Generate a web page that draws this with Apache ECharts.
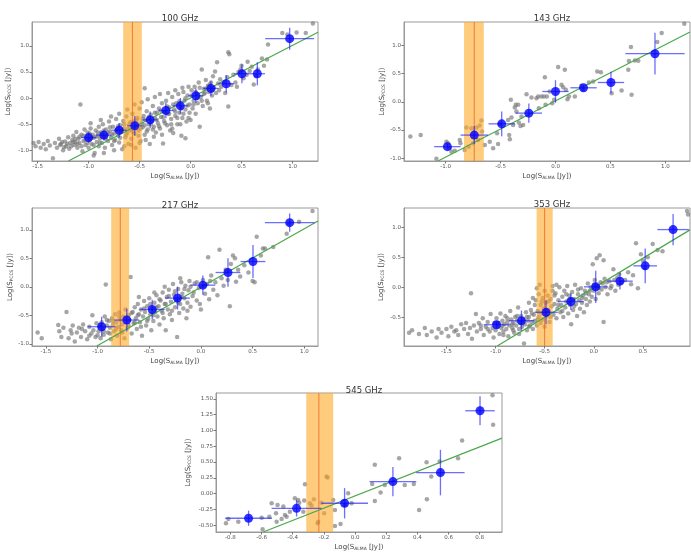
<!DOCTYPE html>
<html><head><meta charset="utf-8">
<script src="https://cdn.jsdelivr.net/npm/echarts@6/dist/echarts.min.js"></script>
<style>html,body{margin:0;padding:0;background:#fff}#c{width:691px;height:557px}</style>
</head><body><div id="c"></div>
<script>
// ---------- DATA ----------
const titles = ['100 GHz', '143 GHz', '217 GHz', '353 GHz', '545 GHz'];

// axis ranges [min,max] and tick steps
const xRanges = [[-1.555, 1.25], [-1.38, 1.225], [-1.634, 1.133], [-1.932, 0.98], [-0.892, 0.943]];
const yRanges = [[-1.205, 1.46], [-1.05, 1.418], [-1.038, 1.382], [-0.982, 1.32], [-0.608, 1.593]];
const xSteps = [0.5, 0.5, 0.5, 0.5, 0.2];
const ySteps = [0.5, 0.5, 0.5, 0.5, 0.25];
const yDecimals = [1, 1, 1, 1, 2];

// orange band [lo, centre, hi]
const band100 = [-0.661, -0.57, -0.478];
const band143 = [-0.833, -0.74, -0.653];
const band217 = [-0.868, -0.78, -0.694];
const band353 = [-0.582, -0.5, -0.418];
const band545 = [-0.313, -0.232, -0.14];

// green relation line endpoints
const line100 = [[-1.198, -1.205], [1.25, 1.263]];
const line143 = [[-1.07, -1.05], [1.225, 1.24]];
const line217 = [[-1.007, -1.038], [1.133, 1.155]];
const line353 = [[-0.983, -0.982], [0.98, 0.955]];
const line545 = [[-0.589, -0.608], [0.943, 0.878]];

// binned points [x, y, xerr, yerr]
const bins100 = [[-1.0,-0.756,0.075,0.1],[-0.85,-0.71,0.075,0.1],[-0.70,-0.615,0.075,0.14],[-0.547,-0.53,0.075,0.19],[-0.396,-0.417,0.075,0.16],[-0.242,-0.237,0.075,0.15],[-0.10,-0.147,0.075,0.15],[0.052,0.045,0.075,0.14],[0.20,0.186,0.075,0.14],[0.35,0.276,0.075,0.17],[0.504,0.468,0.075,0.18],[0.655,0.468,0.075,0.22],[0.972,1.14,0.24,0.21]];
const bins143 = [[-0.985,-0.795,0.12,0.05],[-0.74,-0.59,0.125,0.16],[-0.49,-0.39,0.12,0.22],[-0.243,-0.20,0.12,0.17],[0.0,0.184,0.12,0.2],[0.255,0.25,0.12,0.04],[0.505,0.344,0.12,0.19],[0.906,0.855,0.27,0.37]];
const bins217 = [[-0.96,-0.70,0.135,0.175],[-0.717,-0.583,0.12,0.2],[-0.471,-0.397,0.12,0.17],[-0.226,-0.198,0.12,0.2],[0.019,0.029,0.12,0.17],[0.262,0.251,0.12,0.25],[0.504,0.443,0.12,0.29],[0.859,1.125,0.24,0.16]];
const bins353 = [[-0.99,-0.627,0.13,0.05],[-0.736,-0.56,0.13,0.17],[-0.486,-0.42,0.12,0.2],[-0.233,-0.24,0.13,0.14],[0.02,0.005,0.12,0.27],[0.267,0.10,0.13,0.14],[0.524,0.355,0.12,0.29],[0.808,0.96,0.16,0.26]];
const bins545 = [[-0.683,-0.39,0.15,0.12],[-0.375,-0.233,0.16,0.13],[-0.067,-0.153,0.15,0.24],[0.243,0.19,0.15,0.23],[0.548,0.333,0.155,0.36],[0.802,1.312,0.095,0.23]];

// individual sources [x, y]
const gray100 = [[-1.54,-0.86],[-1.52,-0.92],[-1.49,-0.84],[-1.47,-0.95],[-1.44,-0.88],[-1.42,-0.98],[-1.40,-0.82],[-1.38,-0.91],[-1.35,-1.15],[-1.33,-0.86],[-1.31,-0.95],[-1.29,-0.78],[-1.27,-0.88],[-1.25,-1.0],[-1.23,-0.83],[-1.22,-0.92],[-1.2,-0.75],[-1.19,-0.97],[-1.18,-0.86],[-1.16,-0.80],
[-1.15,-0.72],[-1.14,-0.9],[-1.13,-0.84],[-1.12,-0.65],[-1.11,-0.95],[-1.10,-0.78],[-1.09,-0.86],[-1.08,-0.12],[-1.07,-0.70],[-1.06,-1.02],[-1.05,-0.82],[-1.04,-0.6],[-1.03,-0.9],[-1.02,-0.74],[-1.01,-0.66],[-1.0,-0.95],[-0.99,-0.80],[-0.98,-0.58],[-0.97,-0.88],[-0.96,-0.70],[-0.95,-0.76],[-0.94,-1.05],[-0.93,-0.62],[-0.92,-0.84],[-0.91,-0.72],[-0.90,-0.55],[-0.90,-0.92],
[-0.89,-0.78],[-0.88,-0.66],[-0.87,-0.86],[-0.86,-0.5],[-0.85,-0.74],[-0.84,-0.95],[-0.83,-0.6],[-0.82,-0.70],[-0.81,-0.82],[-0.80,-0.45],[-0.79,-0.64],[-0.78,-0.76],[-0.77,-0.9],[-0.76,-0.55],[-0.75,-0.68],[-0.74,-0.8],[-0.73,-0.4],[-0.72,-0.6],[-0.71,-0.72],[-0.70,-0.85],[-0.69,-0.52],[-0.68,-0.64],[-0.67,-0.98],[-0.66,-0.44],[-0.65,-0.58],[-0.64,-0.75],[-0.63,-0.35],[-0.62,-0.66],[-0.61,-0.88],[-0.60,-0.5],
[-0.59,-0.6],[-0.58,-0.78],[-0.57,-0.3],[-0.56,-0.45],[-0.55,-0.68],[-0.54,-0.95],[-0.53,-0.52],[-0.52,-0.38],[-0.51,-0.62],[-0.50,-0.2],[-0.49,-0.82],[-0.48,-0.48],[-0.47,-0.56],[-0.46,-0.34],[-0.45,0.19],[-0.45,-0.7],[-0.44,-0.42],[-0.43,-0.25],[-0.42,-0.6],[-0.41,-0.5],[-0.40,-0.88],[-0.39,-0.32],[-0.38,-0.44],[-0.37,-0.15],[-0.36,-0.55],[-0.35,-0.38],[-0.34,-0.66],[-0.33,-0.28],[-0.32,-0.48],[-0.31,-0.2],[-0.30,-0.58],
[-0.29,-0.36],[-0.28,-0.1],[-0.27,-0.87],[-0.26,-0.44],[-0.25,-0.26],[-0.24,-0.05],[-0.23,-0.52],[-0.22,-0.3],[-0.21,-0.18],[-0.20,-0.62],[-0.19,-0.4],[-0.18,0.02],[-0.17,-0.67],[-0.16,-0.22],[-0.15,-0.34],[-0.14,-0.1],[-0.13,-0.5],[-0.12,0.08],[-0.11,-0.28],[-0.10,-0.15],[-0.09,-0.72],[-0.08,-0.38],[-0.07,0.12],[-0.06,-0.05],[-0.05,-0.77],[-0.05,-0.22],[-0.04,-0.45],[-0.03,0.05],[-0.02,-0.38],[-0.01,-0.12],
[0.01,0.15],[0.02,-0.2],[0.03,-0.05],[0.04,0.22],[0.05,-0.3],[0.06,0.08],[0.07,-0.1],[0.08,0.3],[0.09,-0.55],[0.10,0.02],[0.11,0.55],[0.12,-0.15],[0.13,0.18],[0.14,0.1],[0.15,0.35],[0.16,-0.05],[0.17,0.24],[0.18,0.12],[0.19,-0.2],[0.20,0.3],[0.21,0.05],[0.22,0.42],[0.23,0.2],[0.24,0.51],[0.25,0.1],[0.26,0.69],[0.27,0.28],[0.28,0.15],[0.29,0.36],[0.30,0.22],
[0.32,0.3],[0.34,0.1],[0.36,0.4],[0.37,0.88],[0.38,0.84],[0.37,-0.16],[0.4,0.25],[0.42,0.45],[0.44,0.3],[0.455,0.22],[0.47,0.5],[0.49,0.55],[0.50,0.62],[0.52,0.38],[0.55,0.45],[0.56,0.7],[0.58,0.52],[0.6,0.6],[0.62,0.26],[0.64,0.42],[0.66,0.55],[0.7,0.76],[0.72,0.62],[0.75,0.74],[0.76,1.03],
[0.9,1.25],[0.95,1.22],[1.04,1.26],[1.13,1.25],[1.2,1.43],
[-1.28,-0.9],[-1.26,-0.84],[-1.24,-0.94],[-1.21,-0.88],[-1.17,-0.92],[-1.15,-0.84],[-1.13,-0.78],[-1.11,-0.88],[-1.09,-0.74],[-1.07,-0.92],[-1.05,-0.72],[-1.03,-0.8],[-1.01,-0.86],[-0.99,-0.68],[-0.97,-0.76],[-0.95,-0.9],[-0.93,-0.74],[-0.91,-0.66],[-0.89,-0.86],[-0.87,-0.7],[-0.85,-0.62],[-0.83,-0.78],[-0.81,-0.66],[-0.79,-0.56],[-0.77,-0.7],[-0.75,-0.82],[-0.73,-0.62],[-0.71,-0.54],[-0.69,-0.76],[-0.67,-0.6],[-0.65,-0.5],[-0.63,-0.7],[-0.61,-0.58],[-0.59,-0.46],[-0.57,-0.64],[-0.55,-0.54],[-0.53,-0.42],[-0.51,-0.72],[-0.49,-0.58],[-0.47,-0.4],[-0.45,-0.52],[-0.43,-0.64],[-0.41,-0.36],[-0.39,-0.5],[-0.37,-0.6],[-0.35,-0.28],[-0.33,-0.42],[-0.31,-0.54],[-0.29,-0.24],[-0.27,-0.36],[-0.25,-0.48],[-0.23,-0.16],[-0.21,-0.3],[-0.19,-0.5],[-0.17,-0.12],[-0.15,-0.26],[-0.13,-0.38],[-0.11,-0.06],[-0.09,-0.2],[-0.07,-0.3],[-0.05,0.0],[-0.03,-0.14],[-0.01,-0.28],[0.01,0.05],[0.03,-0.12],[0.05,0.12],[0.07,0.0],[0.09,0.2],[0.11,-0.05],[0.13,0.08],[0.15,0.18],[0.17,-0.1],[0.19,0.26],[0.21,0.15],
[-0.98,-0.48],[-0.88,-0.42],[-0.78,-0.35],[-0.7,-0.3],[-0.62,-0.22],[-0.55,-0.12],[-0.48,-0.08],[-0.42,-0.02],[-0.35,0.02],[-0.3,0.08],[-0.22,0.1],[-0.15,0.15],[-0.08,0.2],[-0.02,0.22],
[-0.95,-1.1],[-0.85,-1.05],[-0.75,-1.0],[-0.65,-0.92],[-0.58,-0.9],[-0.5,-0.86],[-0.44,-0.8],[-0.36,-0.74],[-0.28,-0.7],[-0.18,-0.58],[-0.1,-0.5],[0.0,-0.42]];

const gray143 = [[-1.322,-0.617],[-1.228,-0.588],[-1.085,-1.01],[-0.994,-0.706],[-0.979,-0.736],[-0.964,-0.825],[-0.948,-0.884],[-0.918,-0.866],[-0.872,-0.677],[-0.866,-0.736],[-0.827,-0.855],[-0.812,-0.457],[-0.79,-0.795],[-0.766,-0.469],[-0.72,-0.457],[-0.705,-0.677],[-0.69,-0.421],[-0.675,-0.332],[-0.669,-0.528],[-0.751,-0.736],[-0.644,-0.766],[-0.599,-0.706],[-0.568,-0.825],[-0.523,-0.748],[-0.532,-0.558],[-0.508,-0.392],[-0.432,-0.32],[-0.422,-0.588],[-0.416,-0.665],[-0.407,0.036],[-0.401,-0.279],[-0.386,-0.41],[-0.371,-0.101],[-0.362,-0.053],[-0.34,-0.053],[-0.356,-0.172],[-0.334,-0.368],[-0.319,-0.427],[-0.31,-0.261],[-0.295,-0.41],[-0.264,0.137],[-0.219,0.077],[-0.173,0.065],[-0.152,-0.113],[-0.097,0.439],[-0.091,-0.053],[-0.106,0.095],[-0.079,0.095],[-0.158,0.095],[-0.128,0.095],[-0.052,0.184],[-0.03,-0.024],[-0.012,0.036],[0.024,0.617],[0.055,0.303],[0.07,0.261],[0.085,0.57],[0.094,0.214],[0.109,0.047],[0.122,0.095],[0.176,0.095],[0.237,0.285],[0.252,0.214],[0.304,0.344],[0.343,0.362],[0.38,0.54],[0.413,0.528],[0.511,0.154],[0.602,0.202],[0.663,0.57],[0.669,0.724],[0.687,0.973],[0.693,0.125],[0.723,0.736],[0.754,0.73],[0.927,1.062],[0.967,1.223],[1.173,1.389]];

const gray217 = [[-1.58,-0.8],[-1.54,-0.9],[-1.38,-0.67],[-1.37,-0.78],[-1.33,-0.72],[-1.3,-0.44],[-1.28,-0.9],[-1.26,-0.76],[-1.24,-0.68],[-1.22,-0.96],[-1.2,-0.8],[-1.18,-0.72],[-1.16,-0.88],[-1.14,-0.66],[-1.12,-0.78],[-1.1,-0.92],[-1.08,-0.7],[-1.06,-0.82],[-1.05,-0.5],[-1.04,-0.76],[-1.02,-0.88],[-1.01,-0.64],
[-0.99,-0.78],[-0.98,-0.7],[-0.97,-0.9],[-0.96,-0.62],[-0.95,-0.74],[-0.94,-0.84],[-0.93,-0.52],[-0.92,0.04],[-0.91,-0.68],[-0.9,-0.8],[-0.89,-0.6],[-0.88,-0.72],[-0.87,-0.92],[-0.86,-0.55],[-0.85,-0.66],[-0.84,-0.78],[-0.83,-0.48],[-0.82,-0.62],[-0.81,-0.86],[-0.8,-0.7],[-0.79,-0.45],[-0.78,-0.58],[-0.77,-0.76],[-0.76,-0.66],[-0.75,-0.52],[-0.74,-0.9],[-0.73,-0.4],[-0.72,-0.62],[-0.71,-0.72],[-0.7,-0.5],
[-0.69,-0.58],[-0.68,0.17],[-0.67,-0.82],[-0.66,-0.44],[-0.65,-0.64],[-0.64,-0.36],[-0.63,-0.55],[-0.62,-0.74],[-0.61,-0.3],[-0.6,-0.48],[-0.59,-0.62],[-0.58,-0.4],[-0.57,-0.86],[-0.56,-0.52],[-0.55,-0.25],[-0.54,-0.44],[-0.53,-0.68],[-0.52,-0.34],[-0.51,-0.56],[-0.5,-0.2],[-0.49,-0.48],[-0.48,-0.76],[-0.47,-0.38],[-0.46,-0.6],[-0.45,-0.28],[-0.44,-0.44],[-0.43,-0.15],[-0.42,-0.52],[-0.41,-0.34],[-0.4,-0.66],
[-0.39,-0.24],[-0.38,-0.42],[-0.37,-0.1],[-0.36,-0.55],[-0.35,-0.3],[-0.34,-0.76],[-0.33,-0.18],[-0.32,-0.4],[-0.31,-0.05],[-0.3,-0.48],[-0.29,-0.26],[-0.28,-0.58],[-0.27,0.05],[-0.26,-0.14],[-0.25,-0.36],[-0.24,-0.22],[-0.23,-0.88],[-0.22,-0.04],[-0.21,-0.46],[-0.2,-0.3],[-0.19,0.08],[-0.18,-0.12],[-0.17,-0.38],[-0.16,-0.2],[-0.15,0.02],[-0.14,-0.55],[-0.13,-0.28],[-0.12,-0.06],[-0.11,0.1],[-0.1,-0.35],[-0.08,-0.16],[-0.06,0.06],[-0.04,-0.24],[-0.02,-0.02],
[0.0,-0.4],[0.02,0.12],[0.04,-0.12],[0.06,0.05],[0.07,0.52],[0.08,-0.22],[0.1,0.2],[0.12,-0.05],[0.14,0.08],[0.16,-0.15],[0.18,0.65],[0.2,0.15],[0.22,0.02],[0.24,0.3],[0.26,0.12],[0.28,-0.34],[0.29,0.4],[0.31,0.55],[0.33,0.5],[0.34,0.09],[0.36,0.3],[0.38,0.18],
[0.42,0.38],[0.46,0.25],[0.5,0.1],[0.52,0.08],[0.54,0.88],[0.58,0.55],[0.6,0.67],[0.62,0.67],[0.7,0.7],[0.83,0.93],[0.85,1.11],[0.95,1.14],[1.08,1.33],
[-1.0,-0.85],[-0.97,-0.66],[-0.94,-0.78],[-0.91,-0.58],[-0.88,-0.82],[-0.85,-0.6],[-0.82,-0.74],[-0.79,-0.52],[-0.76,-0.8],[-0.73,-0.56],[-0.7,-0.68],[-0.67,-0.46],[-0.64,-0.62],[-0.61,-0.5],[-0.58,-0.7],[-0.55,-0.38],[-0.52,-0.6],[-0.49,-0.3],[-0.46,-0.5],[-0.43,-0.36],[-0.4,-0.22],[-0.37,-0.46],[-0.34,-0.3],[-0.31,-0.16],[-0.28,-0.42],[-0.25,-0.08],[-0.22,-0.28],[-0.19,-0.18],[-0.16,-0.04],[-0.13,-0.42],[-0.1,0.0],[-0.07,-0.1],[-0.04,0.08],[-0.01,-0.3],[0.03,0.02],[0.09,0.1],[-0.6,-0.18],[-0.45,-0.1],[-0.35,0.0],[-0.2,0.15],[-1.25,-0.82],[-1.15,-0.74],[-1.08,-0.86],[-1.35,-0.88]];

const gray353 = [[-1.88,-0.76],[-1.85,-0.72],[-1.78,-0.78],[-1.72,-0.68],[-1.7,-0.8],[-1.65,-0.74],[-1.6,-0.84],[-1.58,-0.7],[-1.55,-0.76],[-1.5,-0.7],[-1.48,-0.82],[-1.45,-0.66],[-1.42,-0.74],[-1.4,-0.72],[-1.38,-0.8],[-1.35,-0.62],[-1.32,-0.7],[-1.3,-0.6],[-1.28,-0.78],[-1.26,-0.68],[-1.25,-0.1],[-1.24,-0.86],[-1.22,-0.64],[-1.2,-0.45],[-1.19,-0.74],[-1.17,-0.6],[-1.15,-0.7],[-1.13,-0.52],[-1.12,-0.8],[-1.1,-0.66],[-1.08,-0.58],[-1.06,-0.74],[-1.05,-0.45],[-1.03,-0.68],[-1.02,-0.84],[-1.01,-0.6],
[-1.0,-0.72],[-0.99,-0.52],[-0.98,-0.66],[-0.97,-0.6],[-0.96,-0.78],[-0.95,-0.44],[-0.94,-0.68],[-0.93,-0.56],[-0.92,-0.74],[-0.91,-0.62],[-0.9,-0.48],[-0.89,-0.7],[-0.88,-0.58],[-0.87,-0.82],[-0.86,-0.64],[-0.85,-0.4],[-0.84,-0.54],[-0.83,-0.68],[-0.82,-0.6],[-0.81,-0.76],[-0.8,-0.5],[-0.79,-0.64],[-0.78,-0.56],[-0.77,-0.34],[-0.76,-0.7],[-0.75,-0.6],[-0.74,-0.48],[-0.73,-0.66],[-0.72,-0.54],[-0.71,-0.94],[-0.7,-0.62],[-0.69,-0.42],[-0.68,-0.72],[-0.67,-0.56],[-0.66,-0.5],[-0.65,-0.64],[-0.64,-0.38],[-0.63,-0.58],[-0.62,-0.7],[-0.61,-0.46],
[-0.6,-0.56],[-0.59,-0.22],[-0.58,-0.02],[-0.58,-0.64],[-0.57,-0.4],[-0.56,-0.12],[-0.56,-0.5],[-0.55,0.04],[-0.54,-0.3],[-0.54,-0.6],[-0.53,-0.44],[-0.52,-0.18],[-0.52,-0.54],[-0.51,-0.36],[-0.5,-0.06],[-0.5,-0.66],[-0.49,-0.26],[-0.48,-0.48],[-0.47,-0.14],[-0.46,-0.38],[-0.45,-0.58],[-0.44,-0.2],[-0.43,-0.32],[-0.42,0.02],[-0.41,-0.46],[-0.4,-0.28],[-0.39,-0.1],[-0.38,-0.52],[-0.37,-0.36],[-0.36,-0.22],[-0.35,0.0],[-0.34,-0.42],[-0.33,-0.3],[-0.32,-0.16],[-0.31,-0.5],[-0.3,-0.06],
[-0.29,-0.34],[-0.28,-0.24],[-0.27,0.02],[-0.26,-0.44],[-0.25,-0.14],[-0.24,-0.3],[-0.23,-0.62],[-0.22,-0.08],[-0.21,-0.38],[-0.2,-0.2],[-0.19,0.04],[-0.18,-0.28],[-0.17,-0.48],[-0.16,-0.12],[-0.15,-0.22],[-0.14,-0.36],[-0.13,-0.02],[-0.12,-0.26],[-0.11,-0.14],[-0.1,-0.42],[-0.09,-0.06],[-0.08,-0.2],[-0.07,-0.3],[-0.06,0.06],[-0.05,-0.12],[-0.04,-0.24],[-0.03,0.0],[-0.02,-0.16],[-0.01,0.38],[0.0,-0.06],[0.01,0.12],[0.02,-0.2],[0.03,0.48],[0.04,0.02],[0.05,-0.1],[0.06,0.53],[0.07,0.08],[0.08,-0.04],[0.1,0.45],[0.1,-0.58],[0.11,0.14],[0.12,0.0],[0.14,-0.12],[0.16,0.1],[0.18,0.02],[0.2,0.3],[0.22,-0.06],[0.24,0.16],[0.26,0.22],[0.28,0.08],
[0.32,0.12],[0.35,0.25],[0.38,0.05],[0.4,0.2],[0.43,0.73],[0.45,-0.02],[0.48,0.55],[0.5,0.44],[0.52,0.32],[0.55,0.5],[0.6,0.72],[0.65,0.62],[0.7,0.6],[0.95,1.27],[0.96,1.21],
[-1.15,-0.64],[-1.08,-0.7],[-0.98,-0.6],[-0.93,-0.64],[-0.88,-0.52],[-0.83,-0.62],[-0.78,-0.48],[-0.73,-0.58],[-0.68,-0.5],[-0.63,-0.44],[-0.6,-0.3],[-0.57,-0.54],[-0.53,-0.24],[-0.48,-0.4],[-0.44,-0.5],[-0.4,-0.14],[-0.36,-0.3],[-0.32,-0.4],[-0.28,-0.12],[-0.24,-0.2],[-0.2,-0.32],[-0.16,-0.04],[-0.12,-0.18],[-0.08,-0.1],[-0.04,-0.06],[0.0,0.04],[0.05,-0.02],[0.09,0.06],[0.13,0.08],[0.17,-0.02],[0.21,0.12],[0.25,0.04],[-0.92,-0.8],[-0.82,-0.72],[-0.76,-0.78],[-0.66,-0.66],[-0.56,-0.42],[-0.46,-0.24],[-0.42,-0.06],[-0.38,0.04],[-0.62,-0.18],[-0.66,-0.26]];

const gray545 = [[-0.828,-0.471],[-0.813,-0.402],[-0.749,-0.444],[-0.599,-0.381],[-0.593,-0.566],[-0.55,-0.365],[-0.535,-0.153],[-0.507,-0.312],[-0.497,-0.18],[-0.503,-0.444],[-0.471,-0.402],[-0.46,-0.206],[-0.45,-0.339],[-0.439,-0.365],[-0.418,-0.286],[-0.386,-0.074],[-0.365,-0.1],[-0.358,-0.143],[-0.332,-0.286],[-0.326,-0.111],[-0.321,0.148],[-0.29,-0.153],[-0.279,-0.19],[-0.264,-0.09],[-0.24,-0.471],[-0.236,-0.444],[-0.215,-0.143],[-0.198,-0.312],[-0.183,0.27],[-0.176,0.254],[-0.14,-0.1],[-0.129,-0.259],[-0.129,-0.513],[-0.093,-0.481],[-0.065,-0.18],[-0.044,0.005],[-0.022,-0.153],[0.11,0.153],[0.127,0.455],[0.127,-0.116],[0.164,0.016],[0.191,0.138],[0.283,0.561],[0.319,0.138],[0.377,0.153],[0.411,-0.259],[0.459,0.497],[0.461,-0.09],[0.489,0.27],[0.543,0.508],[0.661,0.561],[0.687,0.841],[0.882,1.556],[0.886,1.09]];

// ---------- LAYOUT ----------
const grids = [
  {left: 32, top: 22, width: 286, height: 139},
  {left: 404, top: 22, width: 286, height: 139},
  {left: 32, top: 208, width: 286, height: 138},
  {left: 404, top: 208, width: 286, height: 138},
  {left: 216, top: 393, width: 286, height: 139}
];
const titleTops = [9, 9, 196, 195, 381];
const yNameGaps = [20, 18, 15, 19, 24];

const grays = [gray100, gray143, gray217, gray353, gray545];
const binsAll = [bins100, bins143, bins217, bins353, bins545];
const bands = [band100, band143, band217, band353, band545];
const lines = [line100, line143, line217, line353, line545];

const FONT = 'DejaVu Sans';
const chart = echarts.init(document.getElementById('c'), null, {renderer: 'canvas'});

const option = {
  animation: false,
  backgroundColor: '#fff',
  title: [], grid: [], xAxis: [], yAxis: [], series: []
};

for (let i = 0; i < 5; i++) {
  const g = grids[i];
  option.title.push({
    text: titles[i], left: g.left + g.width / 2, top: titleTops[i], textAlign: 'center',
    textStyle: {fontFamily: FONT, fontSize: 8.5, fontWeight: 'normal', color: '#333'}
  });
  option.grid.push(Object.assign({show: true, borderColor: '#9a9a9a', borderWidth: 1, backgroundColor: 'transparent', containLabel: false}, g));
  const xd = 1, yd = yDecimals[i];
  option.xAxis.push({
    gridIndex: i, type: 'value', min: xRanges[i][0], max: xRanges[i][1],
    minInterval: xSteps[i], maxInterval: xSteps[i], splitNumber: 5,
    name: 'Log(S{sub|ALMA} [Jy])', nameLocation: 'middle', nameGap: 11,
    nameTextStyle: {fontFamily: FONT, fontSize: 7, color: '#444', rich: {sub: {fontFamily: FONT, fontSize: 4.5, color: '#444', padding: [3, 0, 0, 0]}}},
    axisLine: {show: true, onZero: false, lineStyle: {color: '#9a9a9a', width: 1}},
    axisTick: {show: true, length: 2.5, inside: false, lineStyle: {color: '#777'}},
    splitLine: {show: false},
    axisLabel: {fontFamily: FONT, fontSize: 5.5, color: '#555', margin: 3, showMinLabel: false, showMaxLabel: false,
      formatter: v => v.toFixed(xd)}
  });
  option.yAxis.push({
    gridIndex: i, type: 'value', min: yRanges[i][0], max: yRanges[i][1],
    minInterval: ySteps[i], maxInterval: ySteps[i], splitNumber: 5,
    name: 'Log(S{sub|PCCS} [Jy])', nameLocation: 'middle', nameGap: yNameGaps[i],
    nameTextStyle: {fontFamily: FONT, fontSize: 7, color: '#444', rich: {sub: {fontFamily: FONT, fontSize: 4.5, color: '#444', padding: [3, 0, 0, 0]}}},
    axisLine: {show: true, onZero: false, lineStyle: {color: '#9a9a9a', width: 1}},
    axisTick: {show: true, length: 2.5, inside: false, lineStyle: {color: '#777'}},
    splitLine: {show: false},
    axisLabel: {fontFamily: FONT, fontSize: 5.5, color: '#555', margin: 3, showMinLabel: false, showMaxLabel: false,
      formatter: v => v.toFixed(yd)}
  });

  // gray individual sources
  option.series.push({
    type: 'scatter', xAxisIndex: i, yAxisIndex: i, data: grays[i], symbolSize: 4.5, z: 2,
    itemStyle: {color: 'rgba(115,115,115,0.8)'}, silent: true
  });
  // orange band with centre line
  const yr = yRanges[i];
  option.series.push({
    type: 'custom', xAxisIndex: i, yAxisIndex: i, z: 3, silent: true,
    data: [bands[i]],
    encode: {x: [0, 1, 2]},
    renderItem: (params, api) => {
      const lo = api.value(0), mid = api.value(1), hi = api.value(2);
      const a = api.coord([lo, yr[1]]), b = api.coord([hi, yr[0]]);
      const m1 = api.coord([mid, yr[1]]), m2 = api.coord([mid, yr[0]]);
      return {type: 'group', children: [
        {type: 'rect', shape: {x: a[0], y: a[1], width: b[0] - a[0], height: b[1] - a[1]}, style: {fill: 'rgba(255,170,40,0.6)'}},
        {type: 'line', shape: {x1: m1[0], y1: m1[1], x2: m2[0], y2: m2[1]}, style: {stroke: 'rgba(235,100,40,0.8)', lineWidth: 1}}
      ]};
    }
  });
  // green relation
  option.series.push({
    type: 'line', xAxisIndex: i, yAxisIndex: i, data: lines[i], z: 4, showSymbol: false, symbol: 'none', silent: true,
    lineStyle: {color: '#4aa84a', width: 1.2}
  });
  // error bars
  option.series.push({
    type: 'custom', xAxisIndex: i, yAxisIndex: i, z: 5, silent: true,
    data: binsAll[i],
    encode: {x: 0, y: 1},
    renderItem: (params, api) => {
      const x = api.value(0), y = api.value(1), xe = api.value(2), ye = api.value(3);
      const p1 = api.coord([x - xe, y]), p2 = api.coord([x + xe, y]);
      const p3 = api.coord([x, y - ye]), p4 = api.coord([x, y + ye]);
      const st = {stroke: 'rgba(30,30,255,0.65)', lineWidth: 1.3};
      return {type: 'group', children: [
        {type: 'line', shape: {x1: p1[0], y1: p1[1], x2: p2[0], y2: p2[1]}, style: st},
        {type: 'line', shape: {x1: p3[0], y1: p3[1], x2: p4[0], y2: p4[1]}, style: st}
      ]};
    }
  });
  // binned points
  option.series.push({
    type: 'scatter', xAxisIndex: i, yAxisIndex: i, z: 6, silent: true,
    data: binsAll[i].map(b => [b[0], b[1]]), symbolSize: 9,
    itemStyle: {color: '#0000ff'}
  });
}
chart.setOption(option);
</script>
</body></html>
